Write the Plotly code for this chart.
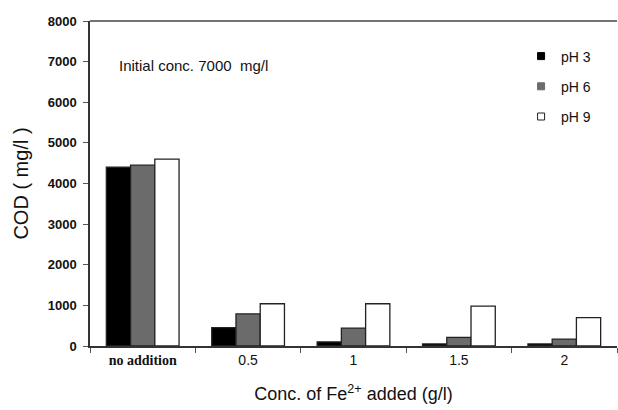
import plotly.graph_objects as go

categories = ["no addition", "0.5", "1", "1.5", "2"]
ph3 = [4400, 450, 100, 50, 50]
ph6 = [4450, 790, 440, 210, 170]
ph9 = [4600, 1040, 1040, 980, 700]
series_names = ["pH 3", "pH 6", "pH 9"]
y_ticks = [0, 1000, 2000, 3000, 4000, 5000, 6000, 7000, 8000]

tick_text = ["<span style='font-family:Liberation Serif'><b>no addition</b></span>"] + categories[1:]

fig = go.Figure()
fills = ["#000000", "#6b6b6b", "#ffffff"]
for i, (name, vals) in enumerate(zip(series_names, [ph3, ph6, ph9])):
    fig.add_trace(go.Bar(
        x=categories, y=vals, name=name,
        marker=dict(color=fills[i], line=dict(color="#222222", width=1.3)),
        showlegend=False,
    ))
# legend entries with small square symbols
for i, name in enumerate(series_names):
    fig.add_trace(go.Scatter(
        x=[None], y=[None], mode="markers", name=name,
        marker=dict(symbol="square", size=7, color=fills[i] if i < 2 else "#ffffff",
                    line=dict(color="#222222" if i == 2 else fills[i], width=1)),
        legendgroup=name,
    ))

fig.update_layout(
    width=618, height=410,
    margin=dict(l=90, r=1, t=21, b=64),
    paper_bgcolor="white", plot_bgcolor="white",
    barmode="group", bargap=0.31, bargroupgap=0,
    font=dict(family="Liberation Sans, Arial", color="#111111", size=13),
    showlegend=True,
    legend=dict(x=0.818, y=0.94, xanchor="left", yanchor="top",
                bgcolor="rgba(0,0,0,0)", font=dict(size=14),
                tracegroupgap=9, itemwidth=30),
    xaxis=dict(
        type="category", tickvals=categories, ticktext=tick_text,
        showline=True, linecolor="#333333", linewidth=1.5, mirror=False,
        ticks="outside", tickson="boundaries", ticklen=5, tickcolor="#555555",
        tickfont=dict(size=14),
        title=dict(text="Conc. of Fe<sup>2+</sup> added (g/l)", font=dict(size=18), standoff=21),
        showgrid=False,
    ),
    yaxis=dict(
        range=[0, 8000], tickvals=y_ticks,
        ticktext=[f"<b>{v}</b>" for v in y_ticks],
        showline=True, linecolor="#333333", linewidth=1.5,
        ticks="outside", ticklen=5, tickcolor="#555555",
        ticklabelstandoff=4,
        tickfont=dict(size=13),
        title=dict(text="COD ( mg/l )", font=dict(size=20), standoff=14),
        showgrid=False, zeroline=False,
    ),
)
# top frame line
fig.add_shape(type="line", xref="paper", yref="paper", x0=0, x1=1, y0=1, y1=1,
              line=dict(color="#444444", width=1.5))
fig.add_annotation(text="Initial conc. 7000  mg/l", xref="paper", yref="paper",
                   x=0.051, y=0.862, xanchor="left", yanchor="middle",
                   showarrow=False, font=dict(size=15))

fig.write_html("out.html")
